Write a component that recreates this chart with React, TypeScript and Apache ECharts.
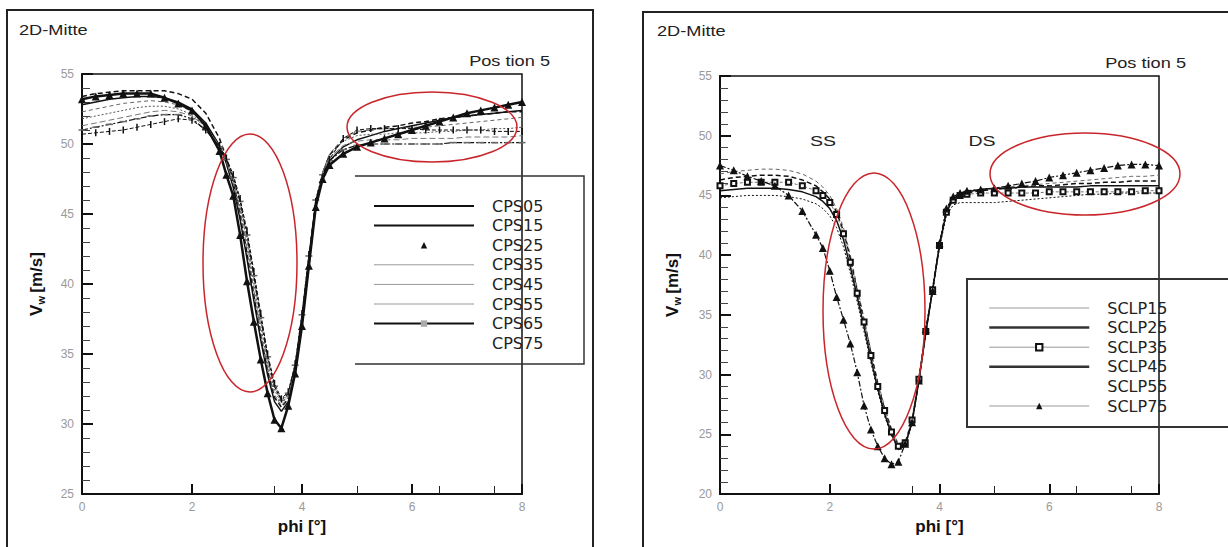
import React, { useEffect, useRef } from "react";
import * as echarts from "echarts";

// ---------- Left panel data (CPS series) ----------
const phiLeft = [0, 0.25, 0.5, 0.75, 1, 1.25, 1.5, 1.75, 2, 2.25, 2.5, 2.625, 2.75, 2.875, 3, 3.125, 3.25, 3.375, 3.5, 3.625, 3.75, 3.875, 4, 4.125, 4.25, 4.375, 4.5, 4.75, 5, 5.25, 5.5, 5.75, 6, 6.25, 6.5, 6.75, 7, 7.25, 7.5, 7.75, 8];
const cps05 = [52.8, 53.0, 53.2, 53.3, 53.4, 53.4, 53.3, 53.0, 52.5, 51.5, 49.9, 48.6, 46.9, 44.6, 41.8, 38.8, 36.0, 33.5, 31.6, 30.9, 31.6, 33.6, 37.2, 41.3, 45.6, 47.7, 48.8, 49.8, 50.3, 50.6, 50.9, 51.1, 51.3, 51.5, 51.7, 51.9, 52.0, 52.1, 52.2, 52.3, 52.4];
const cps15 = [53.4, 53.6, 53.7, 53.8, 53.8, 53.8, 53.8, 53.6, 53.2, 52.2, 50.4, 49.0, 47.3, 45.0, 42.2, 39.2, 36.3, 33.8, 31.9, 31.2, 31.8, 33.8, 37.4, 41.6, 45.8, 47.9, 49.2, 50.3, 50.8, 51.0, 51.2, 51.3, 51.5, 51.6, 51.8, 51.9, 52.0, 52.1, 52.2, 52.3, 52.3];
const cps25 = [53.2, 53.4, 53.5, 53.6, 53.6, 53.6, 53.3, 52.9, 52.4, 51.3, 49.5, 47.8, 46.3, 43.5, 40.2, 37.3, 34.6, 32.2, 30.3, 29.7, 31.3, 33.6, 37.0, 41.3, 45.5, 47.5, 48.5, 49.3, 49.8, 50.1, 50.4, 50.7, 51.0, 51.3, 51.6, 51.9, 52.2, 52.4, 52.6, 52.8, 53.0];
const cps35 = [52.3, 52.5, 52.7, 52.9, 53.0, 53.1, 53.0, 52.8, 52.3, 51.3, 49.8, 48.7, 47.2, 45.2, 42.6, 39.6, 36.6, 34.0, 32.1, 31.3, 31.9, 33.9, 37.5, 41.7, 45.9, 48.0, 49.3, 50.4, 50.9, 51.0, 51.1, 51.1, 51.2, 51.2, 51.3, 51.4, 51.5, 51.6, 51.7, 51.8, 51.9];
const cps45 = [51.8, 52.0, 52.2, 52.4, 52.6, 52.7, 52.7, 52.5, 52.1, 51.2, 49.8, 48.8, 47.4, 45.5, 43.0, 40.0, 37.0, 34.3, 32.4, 31.5, 32.0, 34.0, 37.6, 41.8, 46.0, 48.0, 49.2, 50.2, 50.6, 50.7, 50.7, 50.8, 50.8, 50.8, 50.9, 50.9, 51.0, 51.0, 51.1, 51.1, 51.2];
const cps55 = [51.3, 51.5, 51.7, 51.9, 52.1, 52.3, 52.4, 52.3, 52.0, 51.2, 49.9, 48.9, 47.6, 45.8, 43.3, 40.4, 37.4, 34.6, 32.6, 31.6, 32.1, 34.1, 37.7, 41.9, 46.0, 47.9, 49.0, 49.9, 50.2, 50.3, 50.3, 50.3, 50.4, 50.4, 50.4, 50.4, 50.5, 50.5, 50.5, 50.5, 50.6];
const cps65 = [51.0, 51.2, 51.4, 51.6, 51.8, 52.0, 52.1, 52.1, 51.8, 51.0, 49.8, 48.9, 47.6, 45.9, 43.5, 40.6, 37.6, 34.8, 32.7, 31.7, 32.2, 34.2, 37.8, 42.0, 46.0, 47.8, 48.8, 49.6, 49.9, 50.0, 50.0, 50.0, 50.0, 50.0, 50.0, 50.1, 50.1, 50.1, 50.1, 50.1, 50.1];
const cps75 = [50.7, 50.8, 50.9, 51.0, 51.2, 51.4, 51.6, 51.8, 51.7, 51.0, 49.9, 49.0, 47.8, 46.1, 43.8, 40.9, 37.9, 35.0, 32.9, 31.8, 32.3, 34.3, 37.9, 42.1, 45.9, 47.6, 48.9, 50.4, 51.0, 51.1, 51.1, 51.1, 51.1, 51.0, 51.0, 51.0, 51.0, 51.0, 50.9, 50.9, 50.9];

// ---------- Right panel data (SCLP series) ----------
const phiRight = [0, 0.25, 0.5, 0.75, 1, 1.25, 1.5, 1.75, 1.875, 2, 2.125, 2.25, 2.375, 2.5, 2.625, 2.75, 2.875, 3, 3.125, 3.25, 3.375, 3.5, 3.625, 3.75, 3.875, 4, 4.125, 4.25, 4.375, 4.5, 4.75, 5, 5.25, 5.5, 5.75, 6, 6.25, 6.5, 6.75, 7, 7.25, 7.5, 7.75, 8];
const sclp15 = [46.8, 47.0, 47.1, 47.2, 47.2, 47.1, 46.8, 46.2, 45.7, 45.0, 43.9, 42.3, 40.0, 37.3, 34.7, 32.0, 29.4, 27.3, 25.5, 24.2, 24.4, 26.3, 29.7, 33.7, 37.3, 40.9, 43.8, 44.8, 45.2, 45.3, 45.5, 45.6, 45.7, 45.8, 45.9, 46.0, 46.1, 46.2, 46.3, 46.4, 46.5, 46.6, 46.6, 46.7];
const sclp25 = [46.3, 46.5, 46.6, 46.7, 46.7, 46.6, 46.3, 45.8, 45.3, 44.7, 43.6, 42.0, 39.7, 37.0, 34.5, 31.8, 29.2, 27.1, 25.3, 24.0, 24.2, 26.1, 29.6, 33.6, 37.2, 40.9, 43.7, 44.7, 45.1, 45.2, 45.4, 45.5, 45.6, 45.7, 45.8, 45.8, 45.9, 46.0, 46.0, 46.1, 46.1, 46.2, 46.2, 46.2];
const sclp35 = [45.8, 46.0, 46.1, 46.1, 46.1, 46.1, 45.8, 45.4, 45.0, 44.4, 43.4, 41.8, 39.4, 36.8, 34.4, 31.6, 29.0, 27.0, 25.2, 24.0, 24.3, 26.2, 29.6, 33.6, 37.1, 40.8, 43.6, 44.6, 45.0, 45.1, 45.2, 45.2, 45.2, 45.2, 45.2, 45.3, 45.3, 45.3, 45.3, 45.3, 45.3, 45.3, 45.4, 45.4];
const sclp45 = [45.4, 45.5, 45.6, 45.6, 45.6, 45.5, 45.3, 44.9, 44.5, 43.9, 42.9, 41.3, 39.0, 36.5, 34.0, 31.3, 28.8, 26.7, 25.0, 23.8, 24.1, 26.0, 29.5, 33.5, 37.1, 40.8, 43.6, 44.7, 45.1, 45.3, 45.5, 45.6, 45.6, 45.7, 45.7, 45.7, 45.7, 45.7, 45.8, 45.8, 45.8, 45.8, 45.8, 45.8];
const sclp55 = [44.8, 44.9, 45.0, 45.0, 45.0, 44.9, 44.7, 44.3, 43.9, 43.3, 42.3, 40.7, 38.5, 36.1, 33.6, 31.0, 28.6, 26.5, 24.9, 23.7, 24.0, 25.9, 29.4, 33.4, 37.0, 40.6, 43.3, 44.2, 44.4, 44.4, 44.4, 44.4, 44.5, 44.6, 44.7, 44.8, 44.9, 45.0, 45.1, 45.1, 45.2, 45.2, 45.2, 45.2];
const sclp75 = [47.5, 47.1, 46.6, 46.2, 45.8, 45.0, 43.7, 41.7, 40.6, 38.7, 36.5, 34.6, 32.6, 30.2, 27.4, 25.4, 24.0, 23.0, 22.5, 22.7, 24.2, 26.0, 29.5, 33.8, 37.0, 41.0, 43.9, 44.9, 45.2, 45.4, 45.5, 45.6, 45.8, 46.0, 46.2, 46.5, 46.7, 46.9, 47.1, 47.3, 47.5, 47.6, 47.6, 47.5];

// ---------- Axis ticks ----------
const xMajorTicks = [0, 2, 4, 6, 8];
const xMinorTicks = [3.5, 5, 6.5, 7.5];
const leftYMin = 25;
const rightYMin = 20;
const yMax = 55;

const pairs = (xs: number[], ys: number[]) => xs.map((x, i) => [x, ys[i]]);

const FONT = "Liberation Sans";

function xAxesFor(gridIndex: number) {
  return [
    {
      type: "value",
      gridIndex,
      min: 0,
      max: 8,
      interval: 2,
      position: "bottom",
      name: "phi [°]",
      nameLocation: "middle",
      nameGap: 24,
      nameTextStyle: { fontSize: 17, fontWeight: "bold", color: "#111", fontFamily: FONT },
      axisLine: { show: true, onZero: false, lineStyle: { color: "#111", width: 2 } },
      axisTick: { show: true, inside: true, length: 10, customValues: xMajorTicks, lineStyle: { color: "#111", width: 2 } },
      axisLabel: { color: "#9a9a9a", fontSize: 12, margin: 7, fontFamily: FONT, customValues: xMajorTicks },
      splitLine: { show: false },
    },
    {
      type: "value",
      gridIndex,
      min: 0,
      max: 8,
      position: "bottom",
      axisLine: { show: false },
      axisLabel: { show: false },
      axisTick: { show: true, inside: true, length: 8, customValues: xMinorTicks, lineStyle: { color: "#222", width: 1 } },
      splitLine: { show: false },
    },
  ];
}

function yAxisFor(gridIndex: number, min: number, nameGap: number) {
  return {
    type: "value",
    gridIndex,
    min,
    max: yMax,
    interval: 5,
    name: "{v|V}{s|w} {v|[m/s]}",
    nameLocation: "middle",
    nameGap,
    nameRotate: 90,
    nameTextStyle: {
      color: "#111",
      fontFamily: FONT,
      rich: {
        v: { fontSize: 17, fontWeight: "bold", fontFamily: FONT, color: "#111" },
        s: { fontSize: 11, fontWeight: "bold", fontFamily: FONT, color: "#111", padding: [8, 0, 0, 0] },
      },
    },
    axisLine: { show: true, onZero: false, lineStyle: { color: "#111", width: 2 } },
    axisTick: { show: true, inside: true, length: 11, lineStyle: { color: "#111", width: 2 } },
    minorTick: { show: true, splitNumber: 5, length: 8, lineStyle: { color: "#444", width: 1 } },
    axisLabel: { color: "#9a9a9a", fontSize: 12, margin: 8, fontFamily: FONT },
    splitLine: { show: false },
    minorSplitLine: { show: false },
  };
}

const BLACK = "#111";

function lineSeries(name: string, xs: number[], ys: number[], xIdx: number, yIdx: number, opts: any) {
  const color = opts.color || BLACK;
  return {
    type: "line",
    name,
    xAxisIndex: xIdx,
    yAxisIndex: yIdx,
    data: pairs(xs, ys),
    symbol: opts.symbol || "none",
    symbolSize: opts.symbolSize || 6,
    showSymbol: !!opts.symbol,
    smooth: false,
    itemStyle: { color: opts.symbolColor || color },
    lineStyle: { color, width: opts.width || 1, type: opts.type || "solid" },
    emphasis: { disabled: true },
    z: opts.z || 2,
  };
}

export default function App() {
  const ref = useRef<HTMLDivElement>(null);

  useEffect(() => {
    if (!ref.current) return;
    const chart = echarts.init(ref.current, null, { renderer: "svg" });

    const series = [
      lineSeries("CPS05", phiLeft, cps05, 0, 0, { width: 1.5 }),
      lineSeries("CPS15", phiLeft, cps15, 0, 0, { width: 1.5, type: [5, 3] }),
      lineSeries("CPS25", phiLeft, cps25, 0, 0, { width: 2.5, symbol: "triangle", symbolSize: 8, z: 4 }),
      lineSeries("CPS35", phiLeft, cps35, 0, 0, { width: 1, type: [4, 3], color: "#666" }),
      lineSeries("CPS45", phiLeft, cps45, 0, 0, { width: 1, type: [2, 2], color: "#555" }),
      lineSeries("CPS55", phiLeft, cps55, 0, 0, { width: 1, type: [6, 3], color: "#777" }),
      lineSeries("CPS65", phiLeft, cps65, 0, 0, { width: 1.2, type: [6, 2, 2, 2], symbol: "rect", symbolSize: [7, 1.5], symbolColor: "#666" }),
      lineSeries("CPS75", phiLeft, cps75, 0, 0, { width: 1, type: [4, 2], symbol: "rect", symbolSize: [1.5, 7] }),

      lineSeries("SCLP15", phiRight, sclp15, 2, 1, { width: 1, type: [4, 3], color: "#666" }),
      lineSeries("SCLP25", phiRight, sclp25, 2, 1, { width: 1.5, type: [5, 3] }),
      lineSeries("SCLP35", phiRight, sclp35, 2, 1, { width: 1, color: "#777", type: [3, 2], symbol: "emptyRect", symbolSize: 5, symbolColor: BLACK }),
      lineSeries("SCLP45", phiRight, sclp45, 2, 1, { width: 1.5 }),
      lineSeries("SCLP55", phiRight, sclp55, 2, 1, { width: 1, type: [2, 2] }),
      lineSeries("SCLP75", phiRight, sclp75, 2, 1, { width: 1.2, type: [6, 2, 2, 2], symbol: "triangle", symbolSize: 8, z: 4 }),
    ];

    const thick = { type: "solid", width: 2, color: BLACK };
    const thin = { type: "solid", width: 1, color: "#999" };
    const hidden = { opacity: 0 };
    const noMark = { opacity: 0 };

    const legendCommon = {
      orient: "vertical",
      padding: 0,
      itemWidth: 100,
      itemHeight: 8,
      itemGap: 3.6,
      selectedMode: false,
      textStyle: { fontSize: 16, lineHeight: 16, color: "#222", fontFamily: "DejaVu Sans", padding: [0, 0, 0, 13] },
    };

    const option: any = {
      animation: false,
      backgroundColor: "#fff",
      grid: [
        { left: 82, top: 74, width: 440, height: 420, show: true, borderColor: "#111", borderWidth: 1.5, backgroundColor: "transparent" },
        { left: 720, top: 76, width: 439, height: 418, show: true, borderColor: "#111", borderWidth: 1.5, backgroundColor: "transparent" },
      ],
      xAxis: [...xAxesFor(0), ...xAxesFor(1)],
      yAxis: [yAxisFor(0, leftYMin, 36), yAxisFor(1, rightYMin, 38)],
      legend: [
        {
          ...legendCommon,
          left: 373,
          top: 198,
          data: [
            { name: "CPS05", lineStyle: thick, itemStyle: noMark },
            { name: "CPS15", lineStyle: thick, itemStyle: noMark },
            { name: "CPS25", lineStyle: hidden },
            { name: "CPS35", lineStyle: thin, itemStyle: noMark },
            { name: "CPS45", lineStyle: thin, itemStyle: noMark },
            { name: "CPS55", lineStyle: thin, itemStyle: noMark },
            { name: "CPS65", lineStyle: thick, itemStyle: { color: "#aaa" } },
            { name: "CPS75", lineStyle: hidden, itemStyle: noMark },
          ],
        },
        {
          ...legendCommon,
          left: 988,
          top: 300,
          data: [
            { name: "SCLP15", lineStyle: thin, itemStyle: noMark },
            { name: "SCLP25", lineStyle: { type: "solid", width: 2.5, color: "#333" }, itemStyle: noMark },
            { name: "SCLP35", lineStyle: thin },
            { name: "SCLP45", lineStyle: { type: "solid", width: 2.5, color: "#333" }, itemStyle: noMark },
            { name: "SCLP55", lineStyle: hidden, itemStyle: noMark },
            { name: "SCLP75", lineStyle: thin },
          ],
        },
      ],
      graphic: [
        // panel frames
        { type: "rect", silent: true, z: 0, shape: { x: 7, y: 10, width: 586, height: 560 }, style: { fill: "none", stroke: "#222", lineWidth: 2 } },
        { type: "rect", silent: true, z: 0, shape: { x: 643, y: 12, width: 700, height: 560 }, style: { fill: "none", stroke: "#222", lineWidth: 2 } },
        // legend boxes
        { type: "polyline", silent: true, z: 5, shape: { points: [[355, 176], [584, 176], [584, 364], [355, 364]] }, style: { fill: "none", stroke: "#333", lineWidth: 1.5 } },
        { type: "polyline", silent: true, z: 5, shape: { points: [[1228, 279], [967, 279], [967, 427], [1228, 427]] }, style: { fill: "none", stroke: "#333", lineWidth: 2 } },
        // titles
        { type: "text", silent: true, z: 10, x: 19, y: 30, scaleX: 1.3, style: { text: "2D-Mitte", fontSize: 14, fontFamily: FONT, fill: "#222", align: "left", verticalAlign: "middle" } },
        { type: "text", silent: true, z: 10, x: 550, y: 61, scaleX: 1.3, style: { text: "Pos tion 5", fontSize: 14, fontFamily: FONT, fill: "#222", align: "right", verticalAlign: "middle" } },
        { type: "text", silent: true, z: 10, x: 657, y: 31, scaleX: 1.3, style: { text: "2D-Mitte", fontSize: 14, fontFamily: FONT, fill: "#222", align: "left", verticalAlign: "middle" } },
        { type: "text", silent: true, z: 10, x: 1186, y: 63, scaleX: 1.3, style: { text: "Pos tion 5", fontSize: 14, fontFamily: FONT, fill: "#222", align: "right", verticalAlign: "middle" } },
        { type: "text", silent: true, z: 10, x: 823, y: 141, scaleX: 1.3, style: { text: "SS", fontSize: 15, fontFamily: FONT, fill: "#222", align: "center", verticalAlign: "middle" } },
        { type: "text", silent: true, z: 10, x: 982, y: 141, scaleX: 1.3, style: { text: "DS", fontSize: 15, fontFamily: FONT, fill: "#222", align: "center", verticalAlign: "middle" } },
        // red annotation ellipses
        { type: "ellipse", silent: true, z: 10, shape: { cx: 250, cy: 263, rx: 47, ry: 129 }, style: { fill: "none", stroke: "#c8262b", lineWidth: 1.5 } },
        { type: "ellipse", silent: true, z: 10, shape: { cx: 432, cy: 127, rx: 85, ry: 35 }, style: { fill: "none", stroke: "#c8262b", lineWidth: 1.5 } },
        { type: "ellipse", silent: true, z: 10, shape: { cx: 874, cy: 311, rx: 51, ry: 138 }, style: { fill: "none", stroke: "#c8262b", lineWidth: 1.5 } },
        { type: "ellipse", silent: true, z: 10, shape: { cx: 1085, cy: 174, rx: 95, ry: 41 }, style: { fill: "none", stroke: "#c8262b", lineWidth: 1.5 } },
      ],
      series,
    };

    chart.setOption(option);
    return () => chart.dispose();
  }, []);

  return <div ref={ref} style={{ position: "fixed", left: 0, top: 0, width: 1228, height: 547, background: "#fff" }} />;
}
